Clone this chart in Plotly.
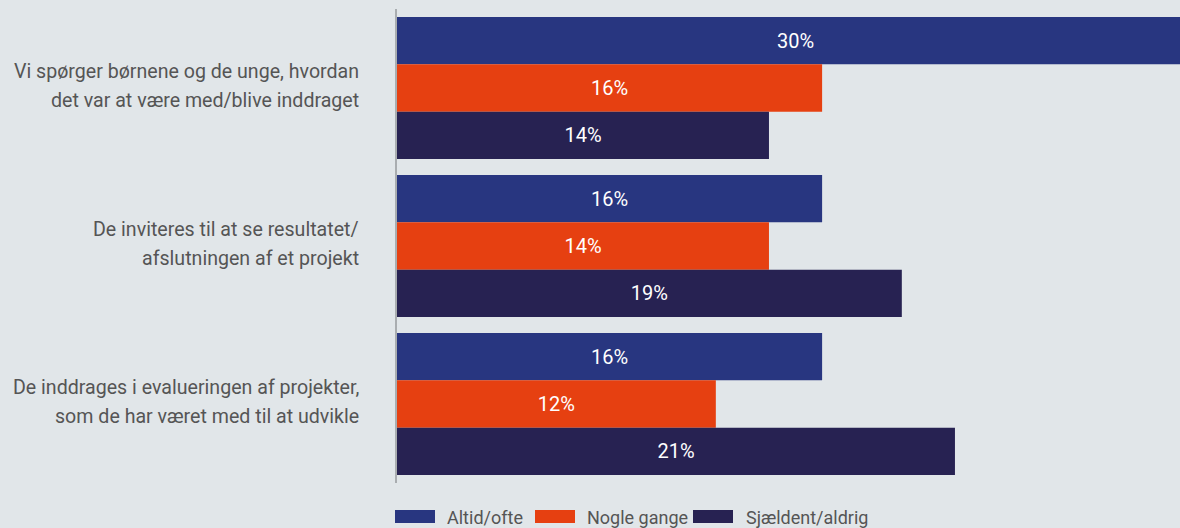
import plotly.graph_objects as go

categories = [
    "Vi spørger børnene og de unge, hvordan<br>det var at være med/blive inddraget",
    "De inviteres til at se resultatet/<br>afslutningen af et projekt",
    "De inddrages i evalueringen af projekter,<br>som de har været med til at udvikle",
]
series_names = ["Altid/ofte", "Nogle gange", "Sjældent/aldrig"]
altid = [30, 16, 16]
nogle = [16, 14, 12]
sjaeldent = [14, 19, 21]
colors = ["#283680", "#e64011", "#272252"]

FONT = "Roboto"
TXT = "#555555"
BG = "#e1e6e9"

W, H = 1180, 528
L, R, T, B = 397, 0, 9, 45
PW, PH = W - L - R, H - T - B

def px(x):
    return (x - L) / PW

def py(y):
    return (H - B - y) / PH

fig = go.Figure()
for name, vals, col in zip(series_names, [altid, nogle, sjaeldent], colors):
    fig.add_trace(go.Bar(
        y=list(range(len(categories))), x=vals, orientation="h", name=name,
        marker=dict(color=col, line=dict(width=0)),
        texttemplate="%{x}%", textposition="inside", insidetextanchor="middle",
        textfont=dict(color="white", size=20, family=FONT),
        constraintext="none", cliponaxis=True, showlegend=False,
    ))

annotations = []
for i, cat in enumerate(categories):
    lines = cat.split("<br>")
    for j, (line, shift) in enumerate(zip(lines, [16.8, -12.2])):
        annotations.append(dict(
            x=0, xref="paper", y=i, yref="y", text=line, showarrow=False,
            xanchor="right", yanchor="middle", xshift=-36, yshift=shift,
            font=dict(size=19.6, color=TXT, family=FONT),
        ))

shapes = []
sw_x = [395, 535, 693]
tx_x = [447, 587, 746]
for name, col, sx, tx in zip(series_names, colors, sw_x, tx_x):
    shapes.append(dict(type="rect", xref="paper", yref="paper",
                       x0=px(sx), x1=px(sx + 40), y0=py(523), y1=py(510),
                       fillcolor=col, line=dict(width=0)))
    annotations.append(dict(x=px(tx - 2), xref="paper", y=py(517), yref="paper",
                            text=name, showarrow=False, xanchor="left", yanchor="middle",
                            font=dict(size=18, color=TXT, family=FONT)))

fig.update_layout(
    width=W, height=H, margin=dict(l=L, r=R, t=T, b=B, pad=0),
    paper_bgcolor=BG, plot_bgcolor=BG,
    barmode="group", bargap=0.101, bargroupgap=0,
    showlegend=False,
    xaxis=dict(range=[0, 29.47], showgrid=False, zeroline=False, showticklabels=False,
               ticks="", showline=False, fixedrange=True),
    yaxis=dict(range=[2.5, -0.5], showgrid=False, zeroline=False, showticklabels=False,
               ticks="", showline=True, linecolor="#a9adb0", linewidth=2, fixedrange=True),
    annotations=annotations, shapes=shapes,
    font=dict(family=FONT, color=TXT),
)

fig.write_html("out.html")
